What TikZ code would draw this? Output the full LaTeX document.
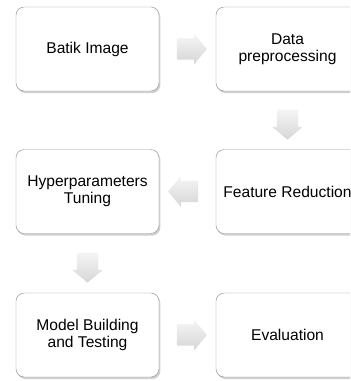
\documentclass[tikz,border=0pt]{standalone}
\usepackage{tikz}
\usepackage{xcolor}
\usepackage{fontspec}
\setmainfont{Liberation Sans}
\usetikzlibrary{shapes.arrows,shadows,calc}
\colorlet{BoxLine}{gray!85}
\colorlet{ArrowTop}{gray!8}
\colorlet{ArrowBottom}{gray!32}
\tikzstyle{stepBox}=[draw=BoxLine,fill=white,rounded corners=7pt,minimum width=4.29cm,minimum height=2.52cm,align=center,font=\fontsize{13.3}{14.5}\selectfont,drop shadow={shadow xshift=1.2pt,shadow yshift=-1.8pt,fill=gray!60,opacity=0.6}]
\tikzstyle{flowArrow}=[single arrow,draw=none,top color=ArrowTop,bottom color=ArrowBottom,minimum height=0.9cm,inner sep=0.31cm,single arrow head extend=0.14cm,single arrow head indent=0pt,single arrow tip angle=100]

\begin{document}
\begin{tikzpicture}[x=0.03cm,y=0.03cm]

        \clip (0,0) rectangle (350,381);
        \fill[white] (0,0) rectangle (350,381);

        % Steps
        \node[stepBox] (batik) at (87.5, 332) {Batik Image};
        \node[stepBox] (prep) at (287.5, 332) {Data\\preprocessing};
        \node[stepBox] (feat) at (287.5, 189.5) {Feature Reduction};
        \node[stepBox] (hyper) at (87.5, 189.5) {Hyperparameters\\Tuning};
        \node[stepBox] (model) at (87.5, 46) {Model Building\\and Testing};
        \node[stepBox] (eval) at (287.5, 46) {Evaluation};

        % Block arrows between the steps
        \node[flowArrow] (a1) at ($(batik.east)!0.5!(prep.west)$) {};
        \node[flowArrow,shape border rotate=270] (a2) at ($(prep.south)!0.5!(feat.north)$) {};
        \node[flowArrow,shape border rotate=180] (a3) at ($(feat.west)!0.5!(hyper.east)$) {};
        \node[flowArrow,shape border rotate=270] (a4) at ($(hyper.south)!0.5!(model.north)$) {};
        \node[flowArrow] (a5) at ($(model.east)!0.5!(eval.west)$) {};

    \end{tikzpicture}
\end{document}
